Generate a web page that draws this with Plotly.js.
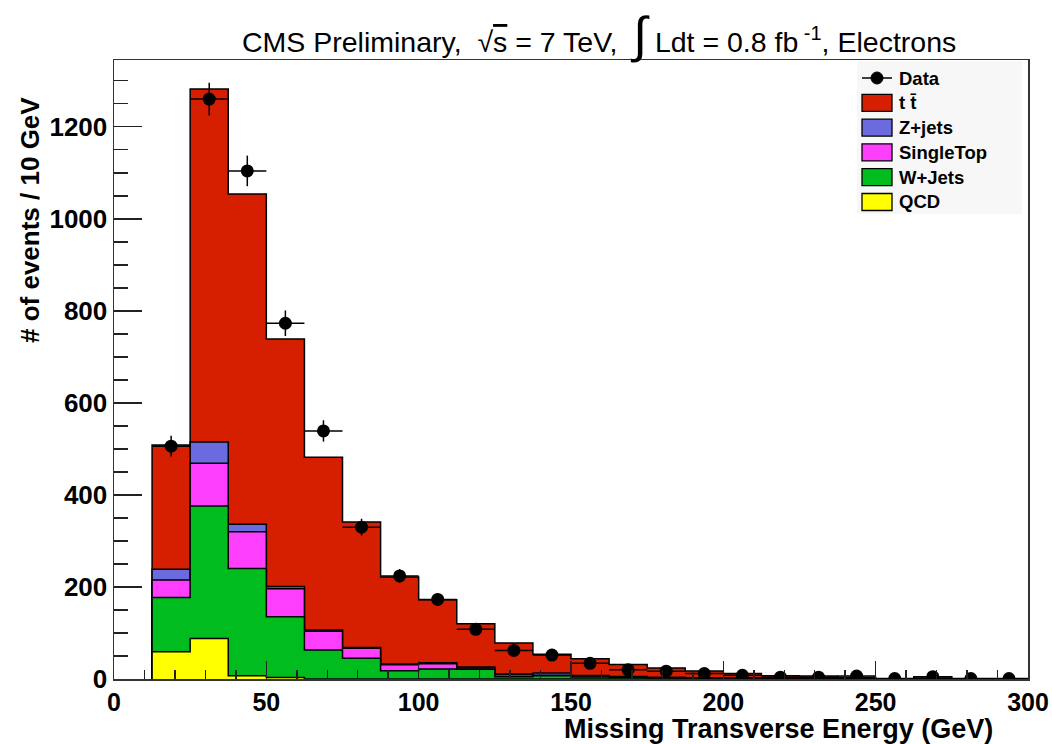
<!DOCTYPE html>
<html>
<head>
<meta charset="utf-8">
<script src="https://cdn.plot.ly/plotly-3.0.1.min.js"></script>
<style>html,body{margin:0;padding:0;background:#fff;}</style>
</head>
<body>
<div id="chart" style="width:1052px;height:744px;"></div>
<script>
// Missing transverse energy, electron channel: 12.5 GeV bins from 12.5 to 300 GeV
const binEdges = [12.5, 25, 37.5, 50, 62.5, 75, 87.5, 100, 112.5, 125, 137.5, 150,
                  162.5, 175, 187.5, 200, 212.5, 225, 237.5, 250, 262.5, 275, 287.5, 300];

// Simulated yields per bin (events)
const qcd       = [59, 88, 7, 3, 0, 0, 0, 0, 0, 0, 0, 0, 0, 0, 0, 0, 0, 0, 0, 0, 0, 0, 0];
const wjets     = [118, 288, 233, 132, 63, 45, 18, 22, 21, 5, 7, 4.5, 3, 2, 1, 1, 0.5, 0.5, 0.3, 0.2, 0.2, 0, 0];
const singleTop = [38, 93, 80, 61, 41, 22, 13, 11, 3, 4.4, 1, 2, 1.5, 1, 1, 0.5, 0.5, 0.3, 0.2, 0.1, 0.1, 0.1, 0.1];
const zjets     = [23.5, 46, 16, 5, 2.5, 1.3, 1.6, 2.4, 2, 1.6, 5, 1, 1, 0.5, 0.5, 0.5, 0.2, 0.2, 0.1, 0.1, 0.1, 0, 0];
const ttbar     = [270, 767, 718, 538, 375.5, 273, 189, 137, 94, 67, 41, 36.5, 26, 20.5, 15, 10, 5.8, 5.5, 3.4, 0.1, 4.6, 0.4, 0.2];

// Observed events per bin
const dataCounts = [506, 1260, 1104, 773, 539, 330, 224, 173, 108, 62, 52, 34, 20, 17, 12, 8, 4, 4, 6.5, 1, 5, 1, 1];

// Samples listed from the top of the stack downwards
const sampleNames  = ['t t\u0304', 'Z+jets', 'SingleTop', 'W+Jets', 'QCD'];
const sampleYields = [ttbar, zjets, singleTop, wjets, qcd];
const sampleColors = ['#d61f00', '#6b6bdf', '#fd3efd', '#00bc1f', '#ffff00'];

const nBins = binEdges.length - 1;
const binCenters = [], halfWidths = [];
for (let i = 0; i < nBins; i++) {
  binCenters.push((binEdges[i] + binEdges[i + 1]) / 2);
  halfWidths.push((binEdges[i + 1] - binEdges[i]) / 2);
}

// cumulative stack height of sample k and everything below it
function stackTop(k) {
  const out = new Array(nBins).fill(0);
  for (let j = k; j < sampleYields.length; j++) {
    for (let i = 0; i < nBins; i++) out[i] += sampleYields[j][i];
  }
  return out;
}

// step outline of a histogram, closed down to zero at both ends
function stepPath(vals) {
  const xs = [binEdges[0]], ys = [0];
  for (let i = 0; i < nBins; i++) { xs.push(binEdges[i]); ys.push(vals[i]); }
  xs.push(binEdges[nBins]); ys.push(0);
  return {xs, ys};
}

const traces = [];
// THStack-like drawing: tallest stack first, each smaller one painted over it
for (let k = 0; k < sampleYields.length; k++) {
  const p = stepPath(stackTop(k));
  traces.push({
    type: 'scatter', mode: 'lines', x: p.xs, y: p.ys,
    line: {shape: 'hv', color: '#000', width: 1.5},
    fill: 'tozeroy', fillcolor: sampleColors[k],
    name: sampleNames[k], showlegend: false, hoverinfo: 'skip'
  });
}
traces.push({
  type: 'scatter', mode: 'markers', x: binCenters, y: dataCounts,
  marker: {color: '#000', size: 13, symbol: 'circle'},
  error_y: {type: 'data', array: dataCounts.map(Math.sqrt), color: '#000', thickness: 1.5, width: 0},
  error_x: {type: 'data', array: halfWidths, color: '#000', thickness: 1.5, width: 0},
  name: 'Data', showlegend: false
});

// plot frame in pixels
const M = {l: 114, r: 24, t: 60, b: 65};
const PW = 1052 - M.l - M.r, PH = 744 - M.t - M.b;
const px = x => (x - M.l) / PW;
const py = y => (M.t + PH - y) / PH;

const FONT = 'Liberation Sans, Arial, Helvetica, sans-serif';
const shapes = [], annotations = [];

// legend panel
shapes.push({type: 'rect', xref: 'paper', yref: 'paper', layer: 'below',
  x0: px(857), x1: px(1022), y0: py(61), y1: py(214),
  fillcolor: '#f7f7f7', line: {width: 0}});
const legendLabels = ['Data'].concat(sampleNames);
legendLabels.forEach((lab, i) => {
  const yc = 78 + i * 24.8;
  if (i === 0) {
    shapes.push({type: 'line', xref: 'paper', yref: 'paper',
      x0: px(862), x1: px(892), y0: py(yc), y1: py(yc), line: {color: '#000', width: 1.5}});
    shapes.push({type: 'circle', xref: 'paper', yref: 'paper',
      xsizemode: 'pixel', ysizemode: 'pixel', xanchor: px(877), yanchor: py(yc),
      x0: -6, x1: 6, y0: -6, y1: 6, fillcolor: '#000', line: {color: '#000', width: 1}});
  } else {
    shapes.push({type: 'rect', xref: 'paper', yref: 'paper',
      x0: px(862), x1: px(892), y0: py(yc - 8.5), y1: py(yc + 8.5),
      fillcolor: sampleColors[i - 1], line: {color: '#000', width: 1.3}});
  }
  annotations.push({xref: 'paper', yref: 'paper', x: px(897), y: py(yc),
    xanchor: 'left', yanchor: 'middle', showarrow: false, text: lab,
    font: {family: FONT, size: 18.5, color: '#000', weight: 'bold'}});
});

// header
annotations.push({xref: 'paper', yref: 'paper', x: px(599), y: 1, yshift: -5,
  xanchor: 'center', yanchor: 'bottom', showarrow: false,
  text: 'CMS Preliminary,  \u221a<span style="text-decoration:overline">s</span> = 7 TeV,  ' +
        '<span style="font-size:50px">\u222b</span> Ldt = 0.8 fb<sup> -1</sup>, Electrons',
  font: {family: FONT, size: 28.5, color: '#000'}});

// axis titles, aligned to the far ends of the axes
annotations.push({xref: 'paper', yref: 'paper', x: 1, xshift: -33, y: 0, yshift: -50,
  xanchor: 'right', yanchor: 'middle', showarrow: false,
  text: 'Missing Transverse Energy (GeV)',
  font: {family: FONT, size: 27, color: '#000', weight: 'bold'}});
annotations.push({xref: 'paper', yref: 'paper', x: 0, xshift: -84, y: py(220),
  xanchor: 'center', yanchor: 'middle', textangle: -90, showarrow: false,
  text: '# of events / 10 GeV',
  font: {family: FONT, size: 26, color: '#000', weight: 'bold'}});

const axisCommon = {
  showgrid: false, zeroline: false, showline: true, mirror: true,
  linecolor: '#333', linewidth: 1.5,
  ticks: 'inside', tickcolor: '#222', tickwidth: 1.5,
  tickfont: {family: FONT, size: 25, color: '#000', weight: 'bold'}
};

const layout = {
  width: 1052, height: 744, margin: M,
  paper_bgcolor: '#fff', plot_bgcolor: '#fff',
  showlegend: false,
  xaxis: Object.assign({}, axisCommon, {
    range: [0, 300], dtick: 50, tick0: 0, ticklen: 18, ticklabelstandoff: 0,
    minor: {dtick: 10, ticks: 'inside', ticklen: 9, tickcolor: '#222', tickwidth: 1.5}
  }),
  yaxis: Object.assign({}, axisCommon, {
    range: [0, 1345], dtick: 200, tick0: 0, ticklen: 28,
    tickfont: {family: FONT, size: 26, color: '#000', weight: 'bold'},
    minor: {dtick: 50, ticks: 'inside', ticklen: 14, tickcolor: '#222', tickwidth: 1.5}
  }),
  shapes, annotations
};

Plotly.newPlot('chart', traces, layout, {displayModeBar: false, staticPlot: true});
</script>
</body>
</html>
